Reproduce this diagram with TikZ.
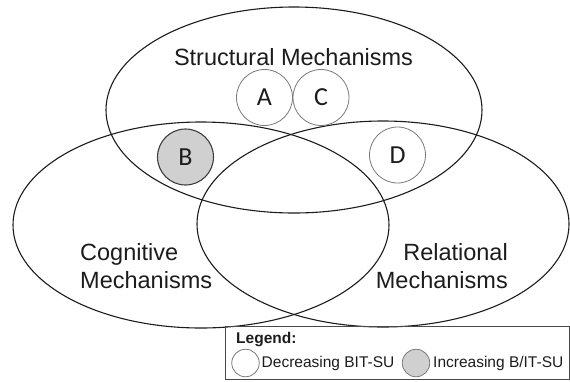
\documentclass[tikz,border=0pt]{standalone}
\usepackage{fontspec}
\setmainfont{Liberation Sans}
\newfontfamily\letterfont{Carlito}
\usetikzlibrary{shapes.geometric}
\definecolor{ink}{HTML}{1C1C1C}
\definecolor{ringgray}{HTML}{7A7A7A}
\definecolor{fillgray}{HTML}{D0D0D0}
\begin{document}
\begin{tikzpicture}[x=1pt,y=-1pt,
  setoval/.style={draw=ink, line width=1.1pt, ellipse, inner sep=0pt,
    minimum width=376pt, minimum height=206pt},
  setlabel/.style={text=ink, inner sep=0pt, font=\fontsize{23.5}{28}\selectfont},
  item/.style={circle, draw=ringgray, line width=0.8pt, minimum size=56pt,
    inner sep=0pt, text=ink, font=\letterfont\fontsize{26}{28}\selectfont},
  itemup/.style={item, draw=ink!85, line width=1.1pt, fill=fillgray},
  keyring/.style={circle, draw=ringgray, line width=0.8pt, minimum size=27.5pt, inner sep=0pt},
  keytext/.style={anchor=west, inner sep=0pt, text=ink, font=\fontsize{15.5}{18}\selectfont}]
\useasboundingbox (0,0) rectangle (570,381);

% the three overlapping sets
\node[setoval] (struct) at (294,110) {};
\node[setoval] (cogn) at (201,225) {};
\node[setoval, minimum width=372pt] (relat) at (383,224) {};

% set labels
\node[setlabel] (structlbl) at (293.5,57) {Structural Mechanisms};
\node[setlabel, anchor=west, align=left] (cognlbl) at (80,266) {Cognitive\\Mechanisms};
\node[setlabel, anchor=east, align=right] (relatlbl) at (508,266) {Relational\\Mechanisms};

% mechanism items
\node[item] (A) at (264.5,97.5) {A};
\node[item] (C) at (321,97.5) {C};
\node[itemup] (B) at (185.5,157) {B};
\node[item] (D) at (397.5,155) {D};

% legend
\node[draw=ink!80, line width=0.9pt, minimum width=344pt, minimum height=53pt,
  inner sep=0pt] (legend) at (397,352.5) {};
\node[keytext, font=\bfseries\fontsize{15.5}{18}\selectfont] (legendtitle) at (236,339.5) {Legend:};
\node[keyring] (keydown) at (245.5,363) {};
\node[keytext] (keydowntext) at (261.5,363) {Decreasing BIT-SU};
\node[keyring, fill=fillgray] (keyup) at (416,363) {};
\node[keytext] (keyuptext) at (433,363) {Increasing B/IT-SU};
\end{tikzpicture}
\end{document}
